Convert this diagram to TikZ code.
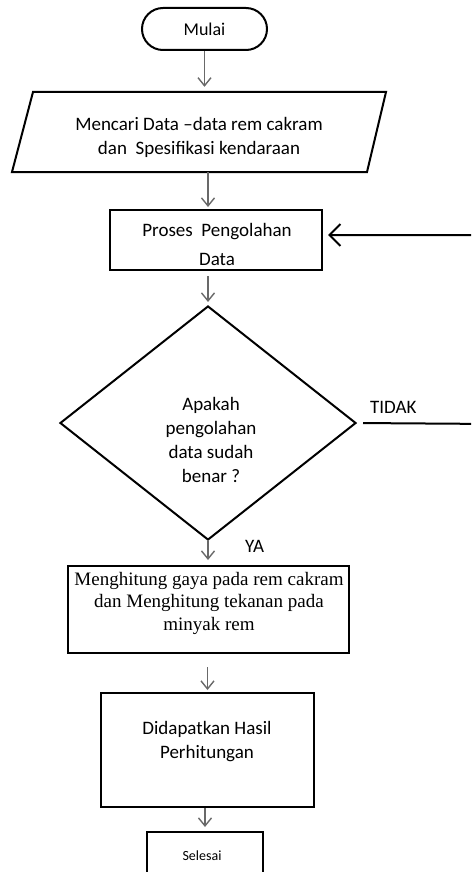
\documentclass[tikz,border=0pt]{standalone}
\usepackage{fontspec}
\setmainfont{Carlito}
\newfontfamily\tnr{Liberation Serif}
\usetikzlibrary{arrows.meta,shapes.geometric}
\definecolor{arrgray}{RGB}{105,105,105}
\begin{document}
\begin{tikzpicture}[x=1pt,y=-1pt,
  box/.style={draw=black,line width=2pt,inner sep=0pt},
  txt/.style={align=center,inner sep=0pt,font=\fontsize{19}{24}\selectfont},
  flow/.style={draw=arrgray,line width=1.4pt,-{Straight Barb[length=8pt,width=13pt]}},
  back/.style={draw=black,line width=2pt}]
\useasboundingbox (0,0) rectangle (471,872);
\clip (0,0) rectangle (471,872);
% start
\node[box, rounded corners=21pt, minimum width=125pt, minimum height=42pt,
      font=\fontsize{18}{22}\selectfont] (mulai) at (204.5,29) {Mulai};
% input
\node[minimum width=354pt, minimum height=80pt, inner sep=0pt] (input) at (199,132) {};
\draw[box] (33,92) -- (386,92) -- (367,172) -- (12,172) -- cycle;
\node[txt, anchor=base] (tinput) at (199,154) {Mencari Data –data rem cakram\\dan\ \ Spesifikasi kendaraan};
% process
\node[box, minimum width=212pt, minimum height=60pt] (proc) at (216,240) {};
\node[txt, anchor=base, font=\fontsize{19}{29}\selectfont] (tproc) at (217,265) {Proses\ \ Pengolahan\\Data};
% decision
\node[diamond, draw=black, line width=2pt, minimum width=296pt, minimum height=234pt, inner sep=0pt] (dec) at (208,423) {};
\node[txt, anchor=base] (tdec) at (211,482) {Apakah\\pengolahan\\data sudah\\benar ?};
\node[txt, anchor=base west] (tidak) at (370,413) {TIDAK};
\node[txt, anchor=base west] (ya) at (245,552) {YA};
% calc
\node[box, minimum width=281pt, minimum height=87pt] (calc) at (208.5,609.5) {};
\node[txt, anchor=base, font=\tnr\fontsize{19}{22.5}\selectfont] (tcalc) at (209,630) {Menghitung gaya pada rem cakram\\dan Menghitung tekanan pada\\minyak rem};
% result
\node[box, minimum width=213pt, minimum height=114pt] (hasil) at (207.5,750) {};
\node[txt, anchor=base] (thasil) at (207,758) {Didapatkan Hasil\\Perhitungan};
% end
\node[box, minimum width=116pt, minimum height=56pt] (selesai) at (205,860) {};
\node[txt, anchor=base, font=\fontsize{14}{17}\selectfont] (tselesai) at (202,860) {Selesai};
% connectors
\draw[flow, shorten >=5pt] (mulai.south) -- (mulai.south |- input.north);
\draw[flow, shorten >=2pt] (input.south -| dec.north) -- (proc.north -| dec.north);
\draw[flow, shorten <=5pt, shorten >=3pt] (proc.south -| dec.north) -- (dec.north);
\draw[flow, shorten >=5pt] (dec.south) -- (calc.north -| dec.south);
\draw[flow, shorten <=13pt, shorten >=2pt] (calc.south -| hasil.north) -- (hasil.north);
\draw[flow, shorten >=4pt] (hasil.south -| selesai.north) -- (selesai.north);
\coordinate (loopB) at (495,424);
\coordinate (loopT) at (495,235);
\draw[back, shorten <=6pt, shorten >=5pt, -{Straight Barb[length=11pt,width=22pt]}]
  (dec.east) -- (loopB) -- (loopT) -- (loopT -| proc.east);
\end{tikzpicture}
\end{document}
